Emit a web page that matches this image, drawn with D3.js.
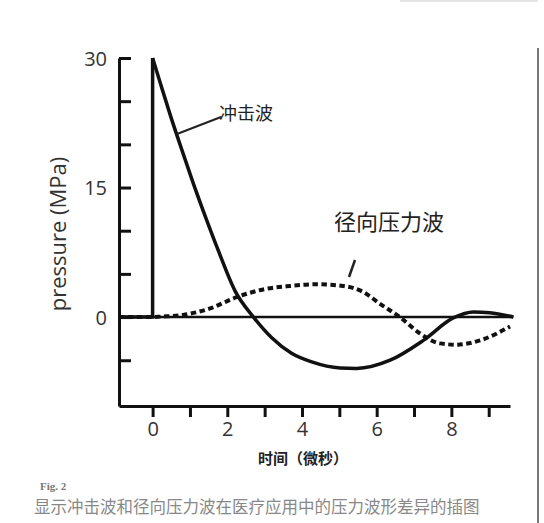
<!DOCTYPE html>
<html>
<head>
<meta charset="utf-8">
<script src="https://cdn.jsdelivr.net/npm/d3@7"></script>
<style>
  html, body { margin: 0; padding: 0; background: #fff; }
  svg { display: block; }
</style>
</head>
<body>
<script>
// Data (time in microseconds, pressure in MPa)
const shockT = [-0.9, 0, 0, 0.22, 0.48, 0.78, 1.08, 1.45, 1.75, 2.21, 2.7, 3.19, 3.72, 4.26, 5.02, 5.46, 6.36, 7.25, 8.05, 8.59, 9.03, 9.66];
const shockP = [0, 0, 30, 26.9, 23.3, 19.4, 15.6, 11.2, 7.8, 3.0, 0, -2.4, -4.2, -5.2, -5.9, -5.95, -5.0, -2.7, -0.1, 0.6, 0.5, 0];

const radialT = [-0.9, 0, 0.2, 0.82, 1.54, 2.25, 2.96, 3.68, 4.39, 5.1, 5.64, 6.1, 6.62, 7.16, 7.69, 8.14, 8.77, 9.57];
const radialP = [0, 0, 0.05, 0.25, 1.0, 2.3, 3.2, 3.6, 3.8, 3.6, 2.9, 1.5, 0, -1.9, -3.05, -3.2, -2.7, -1.1];

const xTicks = [0, 1, 2, 3, 4, 5, 6, 7, 8, 9];
const xLabels = [0, 2, 4, 6, 8];
const yTicks = [-5, 0, 5, 10, 15, 20, 25, 30];
const yLabels = [0, 15, 30];

const width = 544, height = 523;
const latin = "'Open Sans', 'Noto Sans', sans-serif";
const cjk = "'Noto Sans CJK SC', sans-serif";

const svg = d3.select("body").append("svg")
    .attr("width", width)
    .attr("height", height);

const x = d3.scaleLinear().domain([-0.9, 9.57]).range([119, 510]);
const y = d3.scaleLinear().domain([-10.3, 30]).range([406, 58]);

// Y axis, ticks pointing inward
const yAxis = svg.append("g")
    .attr("transform", `translate(${x(-0.9)},0)`)
    .call(d3.axisLeft(y)
        .tickValues(yTicks)
        .tickSizeInner(-12)
        .tickSizeOuter(0)
        .tickPadding(12)
        .tickFormat(d => yLabels.includes(d) ? d : ""));

// X axis, ticks pointing down
const xAxis = svg.append("g")
    .attr("transform", `translate(0,${y(-10.3)})`)
    .call(d3.axisBottom(x)
        .tickValues(xTicks)
        .tickSizeInner(11)
        .tickSizeOuter(0)
        .tickPadding(5)
        .tickFormat(d => xLabels.includes(d) ? d : ""));

[yAxis, xAxis].forEach(g => {
    g.select(".domain").attr("stroke", "#111").attr("stroke-width", 3);
    g.selectAll(".tick line").attr("stroke", "#111").attr("stroke-width", 3);
    g.selectAll(".tick text")
        .attr("fill", "#333")
        .attr("font-family", latin)
        .attr("font-size", 20);
});
yAxis.selectAll(".tick text").attr("dy", "0.36em");

// zero line
svg.append("line")
    .attr("x1", x(-0.9)).attr("x2", x(9.66))
    .attr("y1", y(0)).attr("y2", y(0))
    .attr("stroke", "#111")
    .attr("stroke-width", 2.5);

const smooth = d3.line()
    .x(d => x(d[0]))
    .y(d => y(d[1]))
    .curve(d3.curveMonotoneX);

const straight = d3.line()
    .x(d => x(d[0]))
    .y(d => y(d[1]));

// radial pressure wave (dotted)
svg.append("path")
    .datum(d3.zip(radialT, radialP))
    .attr("d", smooth)
    .attr("fill", "none")
    .attr("stroke", "#111")
    .attr("stroke-width", 4)
    .attr("stroke-dasharray", "5.5,3.5");

// shock wave: baseline + vertical jump, then smooth decay
const shock = d3.zip(shockT, shockP);
svg.append("path")
    .datum(shock.slice(0, 3))
    .attr("d", straight)
    .attr("fill", "none")
    .attr("stroke", "#111")
    .attr("stroke-width", 3.5);
svg.append("path")
    .datum(shock.slice(2))
    .attr("d", smooth)
    .attr("fill", "none")
    .attr("stroke", "#111")
    .attr("stroke-width", 3.5);

// labels with leader lines
svg.append("line")
    .attr("x1", 177).attr("y1", 134).attr("x2", 221).attr("y2", 117)
    .attr("stroke", "#222").attr("stroke-width", 2);
svg.append("text")
    .attr("x", 219).attr("y", 120)
    .attr("font-family", cjk)
    .attr("font-size", 18)
    .attr("fill", "#222")
    .text("冲击波");

svg.append("line")
    .attr("x1", 349).attr("y1", 277).attr("x2", 355).attr("y2", 260)
    .attr("stroke", "#222").attr("stroke-width", 2.5);
svg.append("text")
    .attr("x", 334).attr("y", 230)
    .attr("font-family", cjk)
    .attr("font-size", 22)
    .attr("fill", "#222")
    .text("径向压力波");

// axis titles
svg.append("text")
    .attr("transform", `translate(66,${234}) rotate(-90)`)
    .attr("text-anchor", "middle")
    .attr("font-family", latin)
    .attr("font-size", 22)
    .attr("fill", "#333")
    .text("pressure (MPa)");

svg.append("text")
    .attr("x", 303).attr("y", 464)
    .attr("text-anchor", "middle")
    .attr("font-family", cjk)
    .attr("font-size", 15)
    .attr("font-weight", "bold")
    .attr("fill", "#222")
    .text("时间（微秒）");

// caption
svg.append("text")
    .attr("x", 40).attr("y", 490)
    .attr("font-family", "'Liberation Serif', serif")
    .attr("font-size", 11)
    .attr("font-weight", "bold")
    .attr("fill", "#777")
    .text("Fig. 2");
svg.append("text")
    .attr("x", 34).attr("y", 513)
    .attr("font-family", cjk)
    .attr("font-size", 16.5)
    .attr("fill", "#888")
    .text("显示冲击波和径向压力波在医疗应用中的压力波形差异的插图");

// page frame remnants
svg.append("line")
    .attr("x1", 538).attr("x2", 538).attr("y1", 48).attr("y2", height)
    .attr("stroke", "#777").attr("stroke-width", 2);
svg.append("line")
    .attr("x1", 400).attr("x2", 538).attr("y1", 1).attr("y2", 1)
    .attr("stroke", "#ddd").attr("stroke-width", 1.5);
</script>
</body>
</html>
